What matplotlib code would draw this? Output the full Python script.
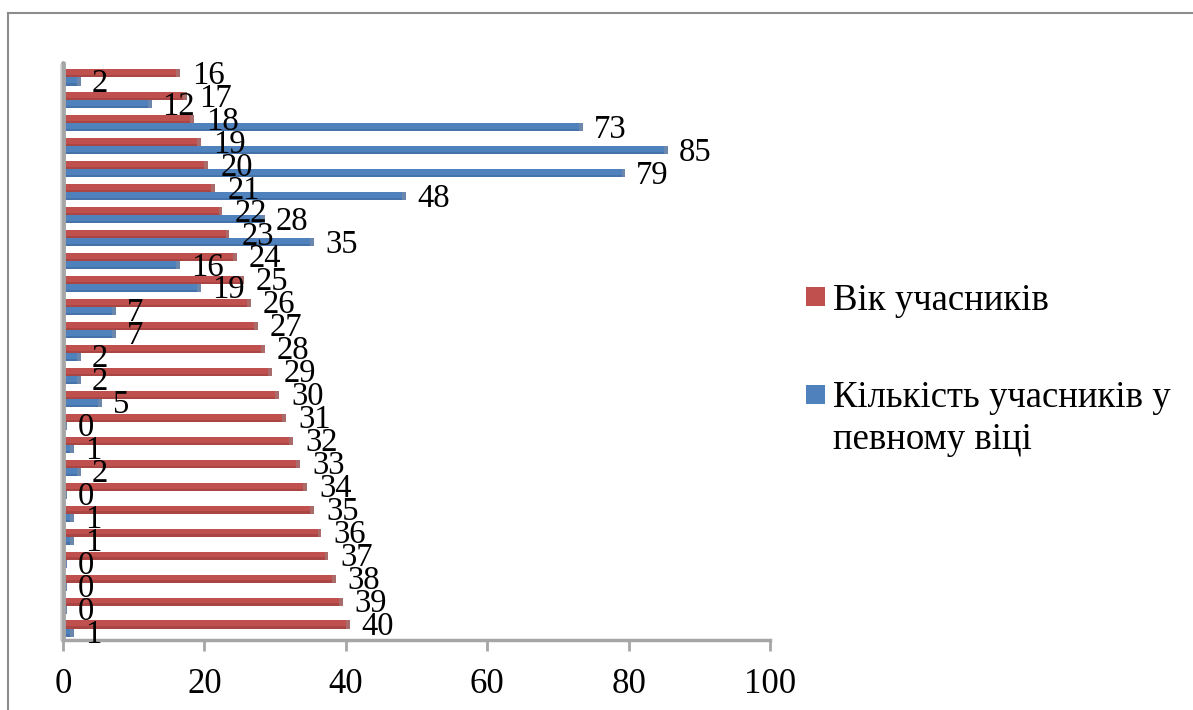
import matplotlib
matplotlib.use("Agg")
import matplotlib.pyplot as plt
from matplotlib.lines import Line2D
from matplotlib.patches import Rectangle
import numpy as np

# Ages of participants (categories, top to bottom) and how many participants have each age
ages = [16, 17, 18, 19, 20, 21, 22, 23, 24, 25, 26, 27, 28,
        29, 30, 31, 32, 33, 34, 35, 36, 37, 38, 39, 40]
counts = [2, 12, 73, 85, 79, 48, 28, 35, 16, 19, 7, 7, 2,
          2, 5, 0, 1, 2, 0, 1, 1, 0, 0, 0, 1]
x_ticks = [0, 20, 40, 60, 80, 100]
series_names = ["Вік учасників", "Кількість учасників у\nпевному віці"]

RED, RED_DARK = "#C0504D", "#8E3B39"
BLUE, BLUE_DARK = "#4F81BD", "#3A6090"
GRID_GRAY = "#A6A6A6"
SERIF = "Liberation Serif"

W, H = 1193, 710
fig = plt.figure(figsize=(W / 100, H / 100), dpi=100)
fig.patch.set_facecolor("white")

# axes placement in pixels
left_px, right_px, top_px, bottom_px = 63, 770, 66, 640
ax = fig.add_axes([left_px / W, 1 - bottom_px / H,
                   (right_px - left_px) / W, (bottom_px - top_px) / H])
ax.set_facecolor("none")

y = np.arange(len(ages))
bh = 0.35
y_red = y - bh / 2
y_blue = y + bh / 2
cap = 0.55  # depth of the darker end face of each bar


def shaded_bars(ypos, values, main, dark):
    values = np.asarray(values, dtype=float)
    ax.barh(ypos, values, height=bh, color=main, zorder=3, linewidth=0)
    # darker lower rim gives the bars a rounded look
    ax.barh(ypos + bh * 0.36, values, height=bh * 0.28, color=dark, alpha=0.45,
            zorder=4, linewidth=0)
    # darker end face
    ax.barh(ypos, np.full_like(values, cap), left=values, height=bh, color=dark,
            alpha=0.75, zorder=4, linewidth=0)


shaded_bars(y_red, ages, RED, RED_DARK)
shaded_bars(y_blue, counts, BLUE, BLUE_DARK)

for yi, v in zip(y_red, ages):
    ax.annotate(str(v), (v, yi), xytext=(11.5, -1.5), textcoords="offset points",
                ha="left", va="center", fontsize=23.5, family=SERIF, zorder=6)
for yi, v in zip(y_blue, counts):
    ax.annotate(str(v), (v, yi), xytext=(10.5, -1.5), textcoords="offset points",
                ha="left", va="center", fontsize=23.5, family=SERIF, zorder=6)

ax.set_xlim(0, 100)
ax.set_ylim(len(ages) - 0.5, -0.5)
ax.set_xticks(x_ticks)
ax.set_xticklabels([str(t) for t in x_ticks], fontsize=25, family=SERIF)
ax.set_yticks([])
ax.tick_params(axis="x", direction="out", length=8, width=2, color=GRID_GRAY, pad=12)
for s in ["top", "right", "left"]:
    ax.spines[s].set_visible(False)
ax.spines["bottom"].set_color(GRID_GRAY)
ax.spines["bottom"].set_linewidth(2.5)

# vertical back wall at x = 0
ax.plot([0, 0], [len(ages) - 0.5, -0.62], color=GRID_GRAY, lw=3.5,
        solid_capstyle="round", zorder=5, clip_on=False)
ax.plot([-0.3, -0.3], [len(ages) - 0.5, -0.55], color="#D0D0D0", lw=1.2,
        zorder=5, clip_on=False)

# chart-area border (top and left edges)
fig.add_artist(Line2D([8 / W, 8 / W], [0, 1 - 13 / H], color="#8C8C8C", lw=1.5))
fig.add_artist(Line2D([8 / W, 1], [1 - 13 / H, 1 - 13 / H], color="#8C8C8C", lw=1.5))

# legend
leg_x, sq = 806, 19
entries = [(RED, 287, [(310, series_names[0])]),
           (BLUE, 385, [(407, series_names[1].split("\n")[0]),
                        (449, series_names[1].split("\n")[1])])]
for color, sq_top, lines in entries:
    fig.add_artist(Rectangle((leg_x / W, 1 - (sq_top + sq) / H), sq / W, sq / H,
                             facecolor=color, edgecolor="none"))
    for base, txt in lines:
        fig.text(833 / W, 1 - base / H, txt, fontsize=26.5, family=SERIF,
                 ha="left", va="baseline")

fig.savefig("out.png", dpi=100, facecolor="white")
